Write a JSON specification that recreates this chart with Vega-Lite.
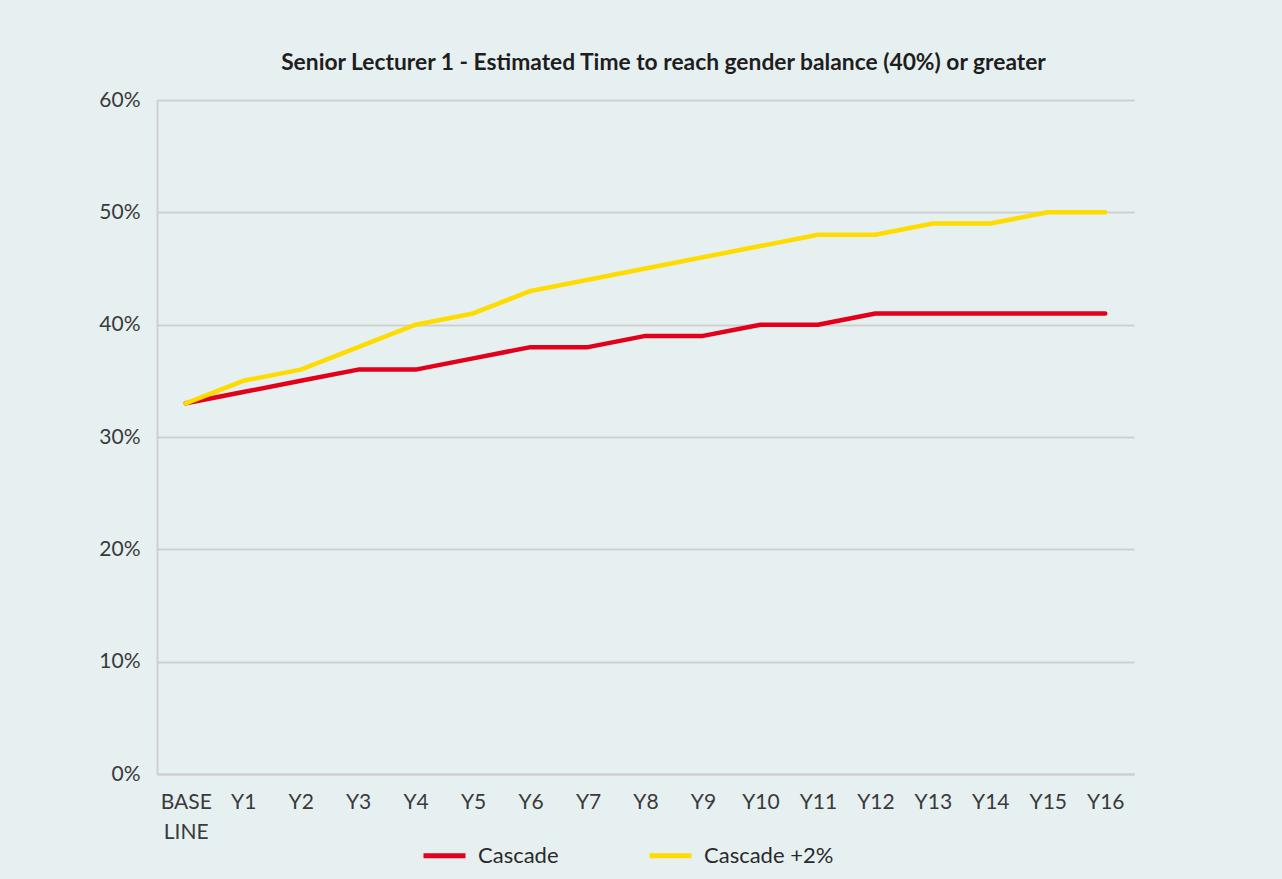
{
  "$schema": "https://vega.github.io/schema/vega-lite/v6.json",
  "width": 977,
  "height": 674,
  "autosize": {"type": "none"},
  "padding": {"left": 157, "top": 100, "right": 148, "bottom": 105},
  "background": "#e7f0f1",
  "title": {
    "text": "Senior Lecturer 1 - Estimated Time to reach gender balance (40%) or greater",
    "font": "Lato",
    "fontSize": 22.8,
    "fontWeight": "bold",
    "color": "#1e1e1e",
    "anchor": "middle",
    "dx": 18,
    "offset": 14
  },
  "data": {
    "values": [
      {"year": "BASELINE", "series": "Cascade", "value": 0.33},
      {"year": "Y1", "series": "Cascade", "value": 0.34},
      {"year": "Y2", "series": "Cascade", "value": 0.35},
      {"year": "Y3", "series": "Cascade", "value": 0.36},
      {"year": "Y4", "series": "Cascade", "value": 0.36},
      {"year": "Y5", "series": "Cascade", "value": 0.37},
      {"year": "Y6", "series": "Cascade", "value": 0.38},
      {"year": "Y7", "series": "Cascade", "value": 0.38},
      {"year": "Y8", "series": "Cascade", "value": 0.39},
      {"year": "Y9", "series": "Cascade", "value": 0.39},
      {"year": "Y10", "series": "Cascade", "value": 0.40},
      {"year": "Y11", "series": "Cascade", "value": 0.40},
      {"year": "Y12", "series": "Cascade", "value": 0.41},
      {"year": "Y13", "series": "Cascade", "value": 0.41},
      {"year": "Y14", "series": "Cascade", "value": 0.41},
      {"year": "Y15", "series": "Cascade", "value": 0.41},
      {"year": "Y16", "series": "Cascade", "value": 0.41},
      {"year": "BASELINE", "series": "Cascade +2%", "value": 0.33},
      {"year": "Y1", "series": "Cascade +2%", "value": 0.35},
      {"year": "Y2", "series": "Cascade +2%", "value": 0.36},
      {"year": "Y3", "series": "Cascade +2%", "value": 0.38},
      {"year": "Y4", "series": "Cascade +2%", "value": 0.40},
      {"year": "Y5", "series": "Cascade +2%", "value": 0.41},
      {"year": "Y6", "series": "Cascade +2%", "value": 0.43},
      {"year": "Y7", "series": "Cascade +2%", "value": 0.44},
      {"year": "Y8", "series": "Cascade +2%", "value": 0.45},
      {"year": "Y9", "series": "Cascade +2%", "value": 0.46},
      {"year": "Y10", "series": "Cascade +2%", "value": 0.47},
      {"year": "Y11", "series": "Cascade +2%", "value": 0.48},
      {"year": "Y12", "series": "Cascade +2%", "value": 0.48},
      {"year": "Y13", "series": "Cascade +2%", "value": 0.49},
      {"year": "Y14", "series": "Cascade +2%", "value": 0.49},
      {"year": "Y15", "series": "Cascade +2%", "value": 0.50},
      {"year": "Y16", "series": "Cascade +2%", "value": 0.50}
    ]
  },
  "mark": {"type": "line", "strokeWidth": 4.5, "strokeJoin": "round", "strokeCap": "round"},
  "encoding": {
    "x": {
      "field": "year",
      "type": "ordinal",
      "sort": null,
      "scale": {"type": "point", "padding": 0.5},
      "axis": {
        "title": null,
        "labelAngle": 0,
        "ticks": false,
        "grid": false,
        "domainColor": "#cfcfcf",
        "domainWidth": 2,
        "labelFont": "Lato",
        "labelFontSize": 21,
        "labelColor": "#3a3a3a",
        "labelPadding": 17,
        "labelLineHeight": 30,
        "labelExpr": "datum.value == 'BASELINE' ? ['BASE', 'LINE'] : datum.value"
      }
    },
    "y": {
      "field": "value",
      "type": "quantitative",
      "scale": {"domain": [0, 0.6]},
      "axis": {
        "title": null,
        "format": ".0%",
        "values": [0, 0.1, 0.2, 0.3, 0.4, 0.5, 0.6],
        "ticks": false,
        "gridColor": "#cfcfcf",
        "gridWidth": 2,
        "domainColor": "#cfcfcf",
        "domainWidth": 2,
        "labelFont": "Lato",
        "labelFontSize": 21,
        "labelColor": "#3a3a3a",
        "labelPadding": 17
      }
    },
    "color": {
      "field": "series",
      "type": "nominal",
      "scale": {"domain": ["Cascade", "Cascade +2%"], "range": ["#e2001a", "#ffdc00"]},
      "legend": {
        "title": null,
        "orient": "none",
        "direction": "horizontal",
        "legendX": 264,
        "legendY": 732,
        "symbolType": "stroke",
        "symbolSize": 1764,
        "symbolStrokeWidth": 5,
        "labelFont": "Lato",
        "labelFontSize": 22,
        "labelColor": "#2a2a2a",
        "labelOffset": 10,
        "columnPadding": 80
      }
    }
  },
  "config": {"view": {"stroke": null}}
}
